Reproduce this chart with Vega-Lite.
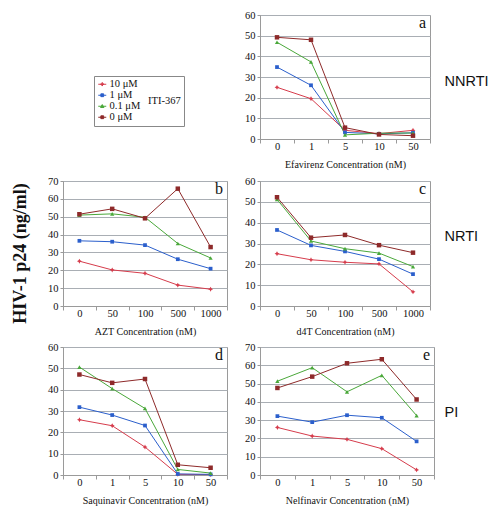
{
  "$schema": "https://vega.github.io/schema/vega-lite/v6.json",
  "padding": {"left": 10, "top": 9, "right": 2, "bottom": 4},
  "background": "white",
  "data": {"values": [
    {"panel": "a", "conc": "0", "series": "10 μM", "value": 25.0},
    {"panel": "a", "conc": "1", "series": "10 μM", "value": 19.5},
    {"panel": "a", "conc": "5", "series": "10 μM", "value": 4.2},
    {"panel": "a", "conc": "10", "series": "10 μM", "value": 2.6},
    {"panel": "a", "conc": "50", "series": "10 μM", "value": 4.2},
    {"panel": "a", "conc": "0", "series": "1 μM", "value": 34.8},
    {"panel": "a", "conc": "1", "series": "1 μM", "value": 26.0},
    {"panel": "a", "conc": "5", "series": "1 μM", "value": 3.2},
    {"panel": "a", "conc": "10", "series": "1 μM", "value": 2.5},
    {"panel": "a", "conc": "50", "series": "1 μM", "value": 3.0},
    {"panel": "a", "conc": "0", "series": "0.1 μM", "value": 46.8},
    {"panel": "a", "conc": "1", "series": "0.1 μM", "value": 37.3},
    {"panel": "a", "conc": "5", "series": "0.1 μM", "value": 2.0},
    {"panel": "a", "conc": "10", "series": "0.1 μM", "value": 2.8},
    {"panel": "a", "conc": "50", "series": "0.1 μM", "value": 2.9},
    {"panel": "a", "conc": "0", "series": "0 μM", "value": 49.2},
    {"panel": "a", "conc": "1", "series": "0 μM", "value": 48.0},
    {"panel": "a", "conc": "5", "series": "0 μM", "value": 5.5},
    {"panel": "a", "conc": "10", "series": "0 μM", "value": 2.2},
    {"panel": "a", "conc": "50", "series": "0 μM", "value": 1.6},

    {"panel": "b", "conc": "0", "series": "10 μM", "value": 25.1},
    {"panel": "b", "conc": "50", "series": "10 μM", "value": 20.2},
    {"panel": "b", "conc": "100", "series": "10 μM", "value": 18.3},
    {"panel": "b", "conc": "500", "series": "10 μM", "value": 11.7},
    {"panel": "b", "conc": "1000", "series": "10 μM", "value": 9.4},
    {"panel": "b", "conc": "0", "series": "1 μM", "value": 36.5},
    {"panel": "b", "conc": "50", "series": "1 μM", "value": 36.0},
    {"panel": "b", "conc": "100", "series": "1 μM", "value": 34.1},
    {"panel": "b", "conc": "500", "series": "1 μM", "value": 26.2},
    {"panel": "b", "conc": "1000", "series": "1 μM", "value": 20.9},
    {"panel": "b", "conc": "0", "series": "0.1 μM", "value": 50.9},
    {"panel": "b", "conc": "50", "series": "0.1 μM", "value": 51.6},
    {"panel": "b", "conc": "100", "series": "0.1 μM", "value": 49.7},
    {"panel": "b", "conc": "500", "series": "0.1 μM", "value": 35.0},
    {"panel": "b", "conc": "1000", "series": "0.1 μM", "value": 26.9},
    {"panel": "b", "conc": "0", "series": "0 μM", "value": 51.4},
    {"panel": "b", "conc": "50", "series": "0 μM", "value": 54.4},
    {"panel": "b", "conc": "100", "series": "0 μM", "value": 49.1},
    {"panel": "b", "conc": "500", "series": "0 μM", "value": 65.7},
    {"panel": "b", "conc": "1000", "series": "0 μM", "value": 33.0},

    {"panel": "c", "conc": "0", "series": "10 μM", "value": 25.1},
    {"panel": "c", "conc": "50", "series": "10 μM", "value": 22.2},
    {"panel": "c", "conc": "100", "series": "10 μM", "value": 21.0},
    {"panel": "c", "conc": "500", "series": "10 μM", "value": 20.2},
    {"panel": "c", "conc": "1000", "series": "10 μM", "value": 6.8},
    {"panel": "c", "conc": "0", "series": "1 μM", "value": 36.5},
    {"panel": "c", "conc": "50", "series": "1 μM", "value": 29.1},
    {"panel": "c", "conc": "100", "series": "1 μM", "value": 26.2},
    {"panel": "c", "conc": "500", "series": "1 μM", "value": 22.5},
    {"panel": "c", "conc": "1000", "series": "1 μM", "value": 15.3},
    {"panel": "c", "conc": "0", "series": "0.1 μM", "value": 51.2},
    {"panel": "c", "conc": "50", "series": "0.1 μM", "value": 31.2},
    {"panel": "c", "conc": "100", "series": "0.1 μM", "value": 27.5},
    {"panel": "c", "conc": "500", "series": "0.1 μM", "value": 25.4},
    {"panel": "c", "conc": "1000", "series": "0.1 μM", "value": 18.9},
    {"panel": "c", "conc": "0", "series": "0 μM", "value": 52.2},
    {"panel": "c", "conc": "50", "series": "0 μM", "value": 32.8},
    {"panel": "c", "conc": "100", "series": "0 μM", "value": 34.1},
    {"panel": "c", "conc": "500", "series": "0 μM", "value": 29.2},
    {"panel": "c", "conc": "1000", "series": "0 μM", "value": 25.6},

    {"panel": "d", "conc": "0", "series": "10 μM", "value": 25.9},
    {"panel": "d", "conc": "1", "series": "10 μM", "value": 23.1},
    {"panel": "d", "conc": "5", "series": "10 μM", "value": 13.1},
    {"panel": "d", "conc": "10", "series": "10 μM", "value": 0.3},
    {"panel": "d", "conc": "50", "series": "10 μM", "value": 0.2},
    {"panel": "d", "conc": "0", "series": "1 μM", "value": 31.8},
    {"panel": "d", "conc": "1", "series": "1 μM", "value": 28.1},
    {"panel": "d", "conc": "5", "series": "1 μM", "value": 23.2},
    {"panel": "d", "conc": "10", "series": "1 μM", "value": 0.5},
    {"panel": "d", "conc": "50", "series": "1 μM", "value": 0.3},
    {"panel": "d", "conc": "0", "series": "0.1 μM", "value": 50.6},
    {"panel": "d", "conc": "1", "series": "0.1 μM", "value": 40.5},
    {"panel": "d", "conc": "5", "series": "0.1 μM", "value": 31.2},
    {"panel": "d", "conc": "10", "series": "0.1 μM", "value": 2.6},
    {"panel": "d", "conc": "50", "series": "0.1 μM", "value": 0.9},
    {"panel": "d", "conc": "0", "series": "0 μM", "value": 47.1},
    {"panel": "d", "conc": "1", "series": "0 μM", "value": 43.2},
    {"panel": "d", "conc": "5", "series": "0 μM", "value": 45.0},
    {"panel": "d", "conc": "10", "series": "0 μM", "value": 4.8},
    {"panel": "d", "conc": "50", "series": "0 μM", "value": 3.4},

    {"panel": "e", "conc": "0", "series": "10 μM", "value": 26.0},
    {"panel": "e", "conc": "1", "series": "10 μM", "value": 21.3},
    {"panel": "e", "conc": "5", "series": "10 μM", "value": 19.5},
    {"panel": "e", "conc": "10", "series": "10 μM", "value": 14.4},
    {"panel": "e", "conc": "50", "series": "10 μM", "value": 2.8},
    {"panel": "e", "conc": "0", "series": "1 μM", "value": 32.2},
    {"panel": "e", "conc": "1", "series": "1 μM", "value": 28.9},
    {"panel": "e", "conc": "5", "series": "1 μM", "value": 32.7},
    {"panel": "e", "conc": "10", "series": "1 μM", "value": 31.3},
    {"panel": "e", "conc": "50", "series": "1 μM", "value": 18.4},
    {"panel": "e", "conc": "0", "series": "0.1 μM", "value": 51.3},
    {"panel": "e", "conc": "1", "series": "0.1 μM", "value": 58.7},
    {"panel": "e", "conc": "5", "series": "0.1 μM", "value": 45.5},
    {"panel": "e", "conc": "10", "series": "0.1 μM", "value": 54.5},
    {"panel": "e", "conc": "50", "series": "0.1 μM", "value": 32.5},
    {"panel": "e", "conc": "0", "series": "0 μM", "value": 47.6},
    {"panel": "e", "conc": "1", "series": "0 μM", "value": 53.8},
    {"panel": "e", "conc": "5", "series": "0 μM", "value": 61.1},
    {"panel": "e", "conc": "10", "series": "0 μM", "value": 63.3},
    {"panel": "e", "conc": "50", "series": "0 μM", "value": 41.3}
  ]},
  "columns": 2,
  "spacing": {"row": 38, "column": 23},
  "bounds": "flush",
  "align": "all",
  "concat": [
    {
      "width": 164, "height": 124,
      "view": {"stroke": null},
      "transform": [{"filter": "datum.panel === 'legend'"}],
      "mark": {"type": "point", "filled": true, "strokeWidth": 1, "opacity": 1},
      "encoding": {
        "fill": {"field": "series", "type": "nominal",
          "scale": {"domain": ["10 μM", "1 μM", "0.1 μM", "0 μM"], "range": ["#d63c4c", "#2b5fcc", "#4aa83a", "#8e2a2a"]},
          "legend": {"orient": "none", "legendX": 31, "legendY": 61, "title": "ITI-367", "titleOrient": "right", "titleAnchor": "middle", "titleBaseline": "middle", "titleFont": "Liberation Serif", "titleFontSize": 10.5, "titleFontWeight": "normal", "titleColor": "#111", "titlePadding": 8, "labelFont": "Liberation Serif", "labelFontSize": 10.5, "labelColor": "#111", "labelOffset": 2, "symbolSize": 64, "symbolStrokeWidth": 1, "strokeColor": "#888", "padding": 3, "rowPadding": 0}},
        "stroke": {"field": "series", "type": "nominal",
          "scale": {"domain": ["10 μM", "1 μM", "0.1 μM", "0 μM"], "range": ["#d63c4c", "#2b5fcc", "#4aa83a", "#8e2a2a"]},
          "legend": {"orient": "none", "legendX": 31, "legendY": 61, "title": "ITI-367", "titleOrient": "right", "titleAnchor": "middle", "titleBaseline": "middle", "titleFont": "Liberation Serif", "titleFontSize": 10.5, "titleFontWeight": "normal", "titleColor": "#111", "titlePadding": 8, "labelFont": "Liberation Serif", "labelFontSize": 10.5, "labelColor": "#111", "labelOffset": 2, "symbolSize": 64, "symbolStrokeWidth": 1, "strokeColor": "#888", "padding": 3, "rowPadding": 0}},
        "shape": {"field": "series", "type": "nominal",
          "scale": {"domain": ["10 μM", "1 μM", "0.1 μM", "0 μM"], "range": ["M-1,0H1M0,-0.45L0.14,-0.14L0.45,0L0.14,0.14L0,0.45L-0.14,0.14L-0.45,0L-0.14,-0.14Z", "M-1,0H1M-0.35,-0.35H0.35V0.35H-0.35Z", "M-1,0H1M0,-0.42L0.42,0.32H-0.42Z", "M-1,0H1M-0.35,-0.35H0.35V0.35H-0.35Z"]},
          "legend": {"orient": "none", "legendX": 31, "legendY": 61, "title": "ITI-367", "titleOrient": "right", "titleAnchor": "middle", "titleBaseline": "middle", "titleFont": "Liberation Serif", "titleFontSize": 10.5, "titleFontWeight": "normal", "titleColor": "#111", "titlePadding": 8, "labelFont": "Liberation Serif", "labelFontSize": 10.5, "labelColor": "#111", "labelOffset": 2, "symbolSize": 64, "symbolStrokeWidth": 1, "strokeColor": "#888", "padding": 3, "rowPadding": 0}}
      }
    },
    {
      "width": 170, "height": 124,
      "title": {"text": "a"},
      "transform": [{"filter": "datum.panel === 'a'"}],
      "encoding": {
        "x": {"field": "conc", "type": "ordinal", "bandPosition": 0.5, "scale": {"type": "band", "domain": ["0", "1", "5", "10", "50"], "paddingInner": 0, "paddingOuter": 0}, "axis": {"title": "Efavirenz Concentration (nM)"}},
        "color": {"field": "series", "type": "nominal", "scale": {"domain": ["10 μM", "1 μM", "0.1 μM", "0 μM"], "range": ["#d63c4c", "#2b5fcc", "#4aa83a", "#8e2a2a"]}, "legend": null}
      },
      "layer": [
        {"mark": {"type": "line", "strokeWidth": 1},
         "encoding": {"y": {"field": "value", "type": "quantitative", "scale": {"domain": [0, 60], "nice": false}, "axis": {"values": [0, 10, 20, 30, 40, 50, 60], "title": null}}}},
        {"mark": {"type": "point", "filled": true, "opacity": 1},
         "encoding": {
           "y": {"field": "value", "type": "quantitative", "axis": null},
           "shape": {"condition": [{"test": "datum.series === '10 μM'", "value": "M0,-1L0.35,-0.35L1,0L0.35,0.35L0,1L-0.35,0.35L-1,0L-0.35,-0.35Z"}, {"test": "datum.series === '0.1 μM'", "value": "triangle-up"}], "value": "square"},
           "size": {"condition": [{"test": "datum.series === '10 μM'", "value": 24}, {"test": "datum.series === '0 μM'", "value": 20}, {"test": "datum.series === '0.1 μM'", "value": 18}], "value": 14}}},
        {"mark": {"type": "point", "opacity": 0},
         "encoding": {"y": {"field": "value", "type": "quantitative", "axis": {"orient": "right", "title": "NNRTI", "labels": false, "ticks": false, "domain": false, "grid": false, "titleAngle": 0, "titleAlign": "left", "titleBaseline": "middle", "titleFont": "Liberation Sans", "titleFontSize": 14.5, "titleFontWeight": "normal", "titleColor": "#111", "titleX": 14, "titleY": 66}}}}
      ],
      "resolve": {"axis": {"y": "independent"}}
    },
    {
      "width": 164, "height": 125,
      "title": {"text": "b"},
      "transform": [{"filter": "datum.panel === 'b'"}],
      "encoding": {
        "x": {"field": "conc", "type": "ordinal", "bandPosition": 0.5, "scale": {"type": "band", "domain": ["0", "50", "100", "500", "1000"], "paddingInner": 0, "paddingOuter": 0}, "axis": {"title": "AZT Concentration (nM)"}},
        "y": {"field": "value", "type": "quantitative", "scale": {"domain": [0, 70], "nice": false}, "axis": {"values": [0, 10, 20, 30, 40, 50, 60, 70], "title": "HIV-1 p24 (ng/ml)", "titleFontWeight": "bold", "titleFontSize": 18, "titleX": -34, "titleY": 72, "titleBaseline": "bottom", "titleAlign": "center", "titleAngle": -90}},
        "color": {"field": "series", "type": "nominal", "scale": {"domain": ["10 μM", "1 μM", "0.1 μM", "0 μM"], "range": ["#d63c4c", "#2b5fcc", "#4aa83a", "#8e2a2a"]}, "legend": null}
      },
      "layer": [
        {"mark": {"type": "line", "strokeWidth": 1}},
        {"mark": {"type": "point", "filled": true, "opacity": 1},
         "encoding": {
           "shape": {"condition": [{"test": "datum.series === '10 μM'", "value": "M0,-1L0.35,-0.35L1,0L0.35,0.35L0,1L-0.35,0.35L-1,0L-0.35,-0.35Z"}, {"test": "datum.series === '0.1 μM'", "value": "triangle-up"}], "value": "square"},
           "size": {"condition": [{"test": "datum.series === '10 μM'", "value": 24}, {"test": "datum.series === '0 μM'", "value": 20}, {"test": "datum.series === '0.1 μM'", "value": 18}], "value": 14}}}
      ]
    },
    {
      "width": 170, "height": 125,
      "title": {"text": "c"},
      "transform": [{"filter": "datum.panel === 'c'"}],
      "encoding": {
        "x": {"field": "conc", "type": "ordinal", "bandPosition": 0.5, "scale": {"type": "band", "domain": ["0", "50", "100", "500", "1000"], "paddingInner": 0, "paddingOuter": 0}, "axis": {"title": "d4T Concentration (nM)"}},
        "color": {"field": "series", "type": "nominal", "scale": {"domain": ["10 μM", "1 μM", "0.1 μM", "0 μM"], "range": ["#d63c4c", "#2b5fcc", "#4aa83a", "#8e2a2a"]}, "legend": null}
      },
      "layer": [
        {"mark": {"type": "line", "strokeWidth": 1},
         "encoding": {"y": {"field": "value", "type": "quantitative", "scale": {"domain": [0, 60], "nice": false}, "axis": {"values": [0, 10, 20, 30, 40, 50, 60], "title": null}}}},
        {"mark": {"type": "point", "filled": true, "opacity": 1},
         "encoding": {
           "y": {"field": "value", "type": "quantitative", "axis": null},
           "shape": {"condition": [{"test": "datum.series === '10 μM'", "value": "M0,-1L0.35,-0.35L1,0L0.35,0.35L0,1L-0.35,0.35L-1,0L-0.35,-0.35Z"}, {"test": "datum.series === '0.1 μM'", "value": "triangle-up"}], "value": "square"},
           "size": {"condition": [{"test": "datum.series === '10 μM'", "value": 24}, {"test": "datum.series === '0 μM'", "value": 20}, {"test": "datum.series === '0.1 μM'", "value": 18}], "value": 14}}},
        {"mark": {"type": "point", "opacity": 0},
         "encoding": {"y": {"field": "value", "type": "quantitative", "axis": {"orient": "right", "title": "NRTI", "labels": false, "ticks": false, "domain": false, "grid": false, "titleAngle": 0, "titleAlign": "left", "titleBaseline": "middle", "titleFont": "Liberation Sans", "titleFontSize": 14.5, "titleFontWeight": "normal", "titleColor": "#111", "titleX": 14, "titleY": 55}}}}
      ],
      "resolve": {"axis": {"y": "independent"}}
    },
    {
      "width": 164, "height": 128,
      "title": {"text": "d"},
      "transform": [{"filter": "datum.panel === 'd'"}],
      "encoding": {
        "x": {"field": "conc", "type": "ordinal", "bandPosition": 0.5, "scale": {"type": "band", "domain": ["0", "1", "5", "10", "50"], "paddingInner": 0, "paddingOuter": 0}, "axis": {"title": "Saquinavir Concentration (nM)"}},
        "y": {"field": "value", "type": "quantitative", "scale": {"domain": [0, 60], "nice": false}, "axis": {"values": [0, 10, 20, 30, 40, 50, 60], "title": null}},
        "color": {"field": "series", "type": "nominal", "scale": {"domain": ["10 μM", "1 μM", "0.1 μM", "0 μM"], "range": ["#d63c4c", "#2b5fcc", "#4aa83a", "#8e2a2a"]}, "legend": null}
      },
      "layer": [
        {"mark": {"type": "line", "strokeWidth": 1}},
        {"mark": {"type": "point", "filled": true, "opacity": 1},
         "encoding": {
           "shape": {"condition": [{"test": "datum.series === '10 μM'", "value": "M0,-1L0.35,-0.35L1,0L0.35,0.35L0,1L-0.35,0.35L-1,0L-0.35,-0.35Z"}, {"test": "datum.series === '0.1 μM'", "value": "triangle-up"}], "value": "square"},
           "size": {"condition": [{"test": "datum.series === '10 μM'", "value": 24}, {"test": "datum.series === '0 μM'", "value": 20}, {"test": "datum.series === '0.1 μM'", "value": 18}], "value": 14}}}
      ]
    },
    {
      "width": 174, "height": 128,
      "title": {"text": "e"},
      "transform": [{"filter": "datum.panel === 'e'"}],
      "encoding": {
        "x": {"field": "conc", "type": "ordinal", "bandPosition": 0.5, "scale": {"type": "band", "domain": ["0", "1", "5", "10", "50"], "paddingInner": 0, "paddingOuter": 0}, "axis": {"title": "Nelfinavir Concentration (nM)"}},
        "color": {"field": "series", "type": "nominal", "scale": {"domain": ["10 μM", "1 μM", "0.1 μM", "0 μM"], "range": ["#d63c4c", "#2b5fcc", "#4aa83a", "#8e2a2a"]}, "legend": null}
      },
      "layer": [
        {"mark": {"type": "line", "strokeWidth": 1},
         "encoding": {"y": {"field": "value", "type": "quantitative", "scale": {"domain": [0, 70], "nice": false}, "axis": {"values": [0, 10, 20, 30, 40, 50, 60, 70], "title": null}}}},
        {"mark": {"type": "point", "filled": true, "opacity": 1},
         "encoding": {
           "y": {"field": "value", "type": "quantitative", "axis": null},
           "shape": {"condition": [{"test": "datum.series === '10 μM'", "value": "M0,-1L0.35,-0.35L1,0L0.35,0.35L0,1L-0.35,0.35L-1,0L-0.35,-0.35Z"}, {"test": "datum.series === '0.1 μM'", "value": "triangle-up"}], "value": "square"},
           "size": {"condition": [{"test": "datum.series === '10 μM'", "value": 24}, {"test": "datum.series === '0 μM'", "value": 20}, {"test": "datum.series === '0.1 μM'", "value": 18}], "value": 14}}},
        {"mark": {"type": "point", "opacity": 0},
         "encoding": {"y": {"field": "value", "type": "quantitative", "axis": {"orient": "right", "title": "PI", "labels": false, "ticks": false, "domain": false, "grid": false, "titleAngle": 0, "titleAlign": "left", "titleBaseline": "middle", "titleFont": "Liberation Sans", "titleFontSize": 14.5, "titleFontWeight": "normal", "titleColor": "#111", "titleX": 10, "titleY": 65}}}}
      ],
      "resolve": {"axis": {"y": "independent"}}
    }
  ],
  "config": {
    "font": "Liberation Serif",
    "view": {"stroke": "#9a9a9a", "strokeWidth": 1},
    "axis": {"labelFont": "Liberation Serif", "labelFontSize": 10.5, "labelColor": "#111", "titleFont": "Liberation Serif", "titleFontSize": 10, "titleFontWeight": "normal", "titleColor": "#111", "domainColor": "#9a9a9a", "tickColor": "#9a9a9a", "gridColor": "#a9aeb4", "gridWidth": 1},
    "axisX": {"grid": false, "labelAngle": 0, "tickBand": "extent", "tickSize": 4, "labelPadding": -2, "titlePadding": 8},
    "axisY": {"tickSize": 3, "labelPadding": 2},
    "title": {"font": "Liberation Serif", "fontWeight": "normal", "fontSize": 16, "color": "#111", "anchor": "end", "offset": -21, "dx": -4, "frame": "group", "baseline": "alphabetic"}
  }
}
